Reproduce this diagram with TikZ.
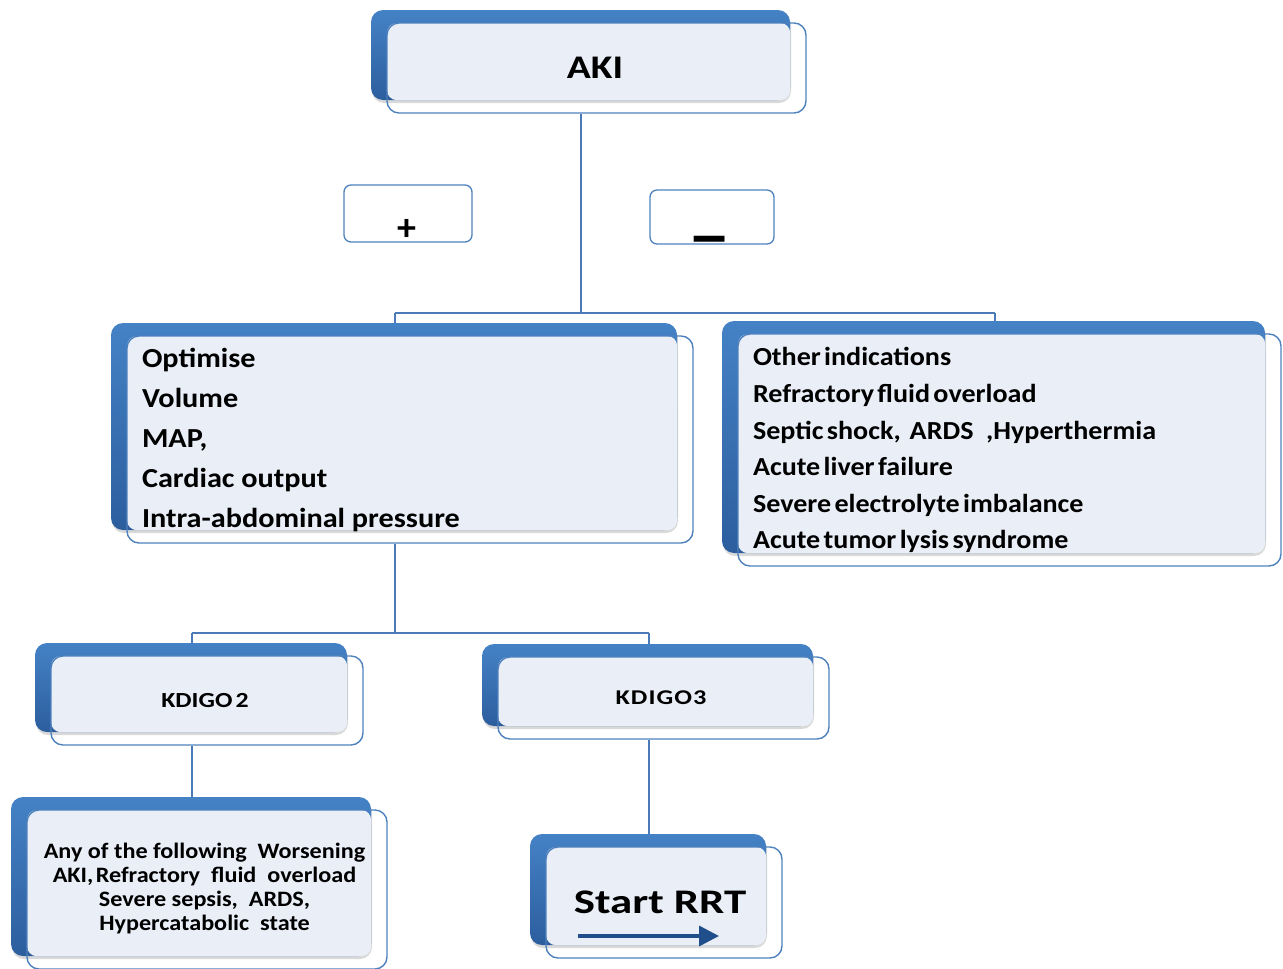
\documentclass[tikz,border=0pt]{standalone}
\usepackage{fontspec}
\setmainfont{Carlito}
\usetikzlibrary{shadows,arrows.meta}
\definecolor{bktop}{HTML}{4482C5}
\definecolor{bkbot}{HTML}{2C5E9E}
\definecolor{lite}{HTML}{E9EEF7}
\definecolor{edge}{HTML}{4F81BD}
\definecolor{connc}{HTML}{4A7AB8}
\definecolor{arrc}{HTML}{1F4E8A}
\tikzset{
  backbox/.style={rectangle, rounded corners=12pt, top color=bktop, bottom color=bkbot, draw=none, inner sep=0pt,
    drop shadow={shadow xshift=1pt, shadow yshift=-3pt, opacity=0.15, fill=black}},
  frontbox/.style={rectangle, rounded corners=12pt, draw=edge, line width=1.4pt, inner sep=0pt, font=\bfseries},
  litefill/.style={fill=lite, rounded corners=10pt},
  connector/.style={draw=connc, line width=1.5pt},
  signbox/.style={rectangle, rounded corners=7pt, draw=edge, line width=1.3pt, inner sep=0pt},
  signtext/.style={font=\bfseries, inner sep=0pt},
}
\newcommand\hstretch[2]{\scalebox{#1}[1]{#2}}
% name, cx, cy, w, h, node options, text
\newcommand\tribox[7]{%
  \node[backbox, minimum width=#4pt, minimum height=#5pt] (#1-b) at (#2-16,#3-13) {};
  \fill[litefill] (#2-#4/2,#3-#5/2) rectangle (#1-b.south east);
  \node[frontbox, minimum width=#4pt, minimum height=#5pt, #6] (#1) at (#2,#3) {#7};
}
\begin{document}
\begin{tikzpicture}[x=1pt, y=-1pt]
\useasboundingbox (0,0) rectangle (1283,969);

% boxes
\tribox{aki}{596.5}{68}{419}{90}{font=\bfseries\fontsize{33}{38}\selectfont}{\hspace{-3pt}\hstretch{1.2}{AKI}}
\tribox{opt}{410}{439.5}{566}{207}{font=\bfseries\fontsize{27.5}{40}\selectfont}{%
  \makebox[536pt][l]{\hstretch{1.1}{\begin{tabular}{@{}l@{}}Optimise\\Volume\\MAP,\\Cardiac output\\Intra-abdominal pressure\end{tabular}}}}
\tribox{oth}{1009.5}{450}{543}{232}{font=\bfseries\fontsize{26}{36.6}\selectfont}{%
  \makebox[513pt][l]{\spaceskip=0.12em\hstretch{1.08}{\begin{tabular}{@{}l@{}}Other indications\\Refractory fluid overload\\Septic shock,\hspace{0.2em} ARDS\hspace{0.45em},Hyperthermia\\Acute liver failure\\Severe electrolyte imbalance\\Acute tumor lysis syndrome\end{tabular}}}}
\tribox{k2}{207}{700.5}{312}{89}{font=\bfseries\fontsize{21.5}{26}\selectfont}{\hspace{-4pt}\hstretch{1.2}{KDIGO\hspace{0.12em}2}}
\tribox{k3}{663.5}{698}{331}{82}{font=\bfseries\fontsize{21}{23}\selectfont}{\hspace{-5pt}\hstretch{1.25}{\addfontfeature{LetterSpace=4}KDIGO3}}
\tribox{any}{207}{889.5}{360}{159}{font=\bfseries\fontsize{22}{24}\selectfont}{\hspace{-5pt}\hstretch{1.1}{\begin{tabular}{@{}c@{}}Any of the following\ \ Worsening\\AKI,\hspace{0.1em}Refractory\ \ fluid\ \ overload\\Severe sepsis,\ \ ARDS,\\Hypercatabolic\ \ state\end{tabular}}}
\tribox{rrt}{664}{902.5}{236}{111}{font=\bfseries\fontsize{34.5}{42}\selectfont}{\hspace{-8pt}\hstretch{1.3}{Start RRT}}

% sign boxes
\node[signbox, minimum width=128pt, minimum height=57pt] (plusbox) at (408,213.5) {};
\node[signtext, font=\bfseries\fontsize{38}{38}\selectfont] (plus) at (407,230) {+};
\node[signbox, minimum width=124pt, minimum height=54pt] (minusbox) at (712,217) {};
\node[signtext, font=\bfseries\fontsize{34}{34}\selectfont] (minus) at (710,247) {\scalebox{1.24}[2]{—}};

% connectors
\coordinate (j1) at (581,313);
\coordinate (j1l) at (395,313);
\coordinate (j1r) at (995,313);
\draw[connector, line width=2pt] (aki.south -| j1) -- (j1);
\draw[connector] (j1l) -- (j1r);
\draw[connector] (j1l) -- (j1l |- opt-b.north);
\draw[connector] (j1r) -- (j1r |- oth-b.north);

\coordinate (j2) at (395,633);
\coordinate (j2l) at (192,633);
\coordinate (j2r) at (649,633);
\draw[connector] (opt.south -| j2) -- (j2);
\draw[connector] (j2l) -- (j2r);
\draw[connector] (j2l) -- (j2l |- k2-b.north);
\draw[connector] (j2r) -- (j2r |- k3-b.north);

\draw[connector] (k2.south -| j2l) -- (j2l |- any-b.north);
\draw[connector] (k3.south -| j2r) -- (j2r |- rrt-b.north);

% arrow in Start RRT
\coordinate (arrS) at (578,936);
\coordinate (arrE) at (719,936);
\draw[draw=arrc, line width=3.5pt, -{Triangle[length=20pt, width=20pt]}] (arrS) -- (arrE);
\end{tikzpicture}
\end{document}
